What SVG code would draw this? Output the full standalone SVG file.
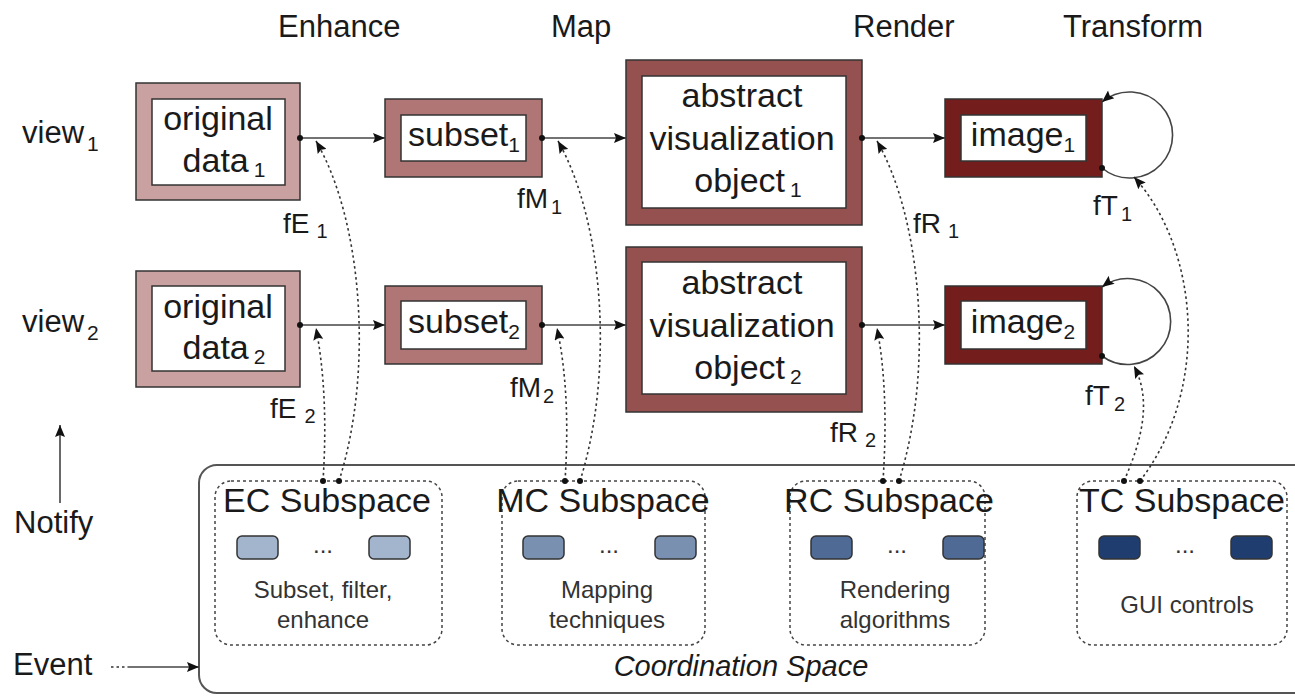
<svg xmlns="http://www.w3.org/2000/svg" width="1295" height="696" viewBox="0 0 1295 696">
<defs>
<style>
text{font-family:"Liberation Sans",Arial,Helvetica,sans-serif;fill:#1a1a1a}
.top{font-size:31px}
.nt{font-size:34px;text-anchor:middle}
.lb{font-size:28px}
.sub{font-size:21px}
.ssub{font-size:20px}
.in{fill:#fff;stroke:#333;stroke-width:1.5}
.out{stroke:#333;stroke-width:1.5}
.c1{fill:#c9a1a1}.c2{fill:#b07676}.c3{fill:#955050}.c4{fill:#731d1d}
.conn{fill:none;stroke:#444;stroke-width:1.6}
.dot{fill:none;stroke:#333;stroke-width:1.6;stroke-dasharray:2.5 3}
.ss{fill:none;stroke:#444;stroke-width:1.5;stroke-dasharray:3 3}
.st{font-size:34px;text-anchor:middle}
.sd{font-size:24px;text-anchor:middle;fill:#333}
.btn{stroke:#333;stroke-width:1.5}
.b1{fill:#a3b4cd}.b2{fill:#7a90b1}.b3{fill:#4f6a95}.b4{fill:#1f3d6f}
</style>
<marker id="arr" viewBox="0 0 12 10" refX="12" refY="5" markerWidth="13" markerHeight="10" markerUnits="userSpaceOnUse" orient="auto">
<path d="M0,0 L12,5 L0,10 L2,5 z" fill="#111"/>
</marker>
</defs>
<rect width="1295" height="696" fill="#fff"/>

<g id="stage-labels">
<text class="top" x="278" y="37">Enhance</text>
<text class="top" x="551" y="37">Map</text>
<text class="top" x="853" y="37">Render</text>
<text class="top" x="1063" y="37">Transform</text>
</g>

<g id="view-labels">
<text class="top" x="22" y="143">view<tspan class="sub" dx="3" dy="8">1</tspan></text>
<text class="top" x="22" y="332">view<tspan class="sub" dx="3" dy="8">2</tspan></text>
</g>

<g id="original1">
<rect class="out c1" x="136" y="83" width="164" height="117"/>
<rect class="in" x="152" y="99" width="133" height="86"/>
<text class="nt" x="218" y="130">original</text>
<text class="nt" x="224" y="172">data<tspan class="sub" dx="5" dy="5">1</tspan></text>
</g>
<g id="original2">
<rect class="out c1" x="136" y="271" width="164" height="116"/>
<rect class="in" x="152" y="286" width="133" height="85"/>
<text class="nt" x="218" y="318">original</text>
<text class="nt" x="224" y="359">data<tspan class="sub" dx="5" dy="5">2</tspan></text>
</g>

<g id="subset1">
<rect class="out c2" x="385" y="99" width="157" height="78"/>
<rect class="in" x="401" y="115" width="125" height="46"/>
<text class="nt" x="464" y="146">subset<tspan class="sub" dy="6">1</tspan></text>
</g>
<g id="subset2">
<rect class="out c2" x="385" y="286" width="157" height="78"/>
<rect class="in" x="401" y="301" width="125" height="48"/>
<text class="nt" x="464" y="333">subset<tspan class="sub" dy="6">2</tspan></text>
</g>

<g id="avo1">
<rect class="out c3" x="626" y="60" width="236" height="165"/>
<rect class="in" x="642" y="76" width="204" height="132"/>
<text class="nt" x="742" y="107">abstract</text>
<text class="nt" x="742" y="150">visualization</text>
<text class="nt" x="748" y="192">object<tspan class="sub" dx="5" dy="5">1</tspan></text>
</g>
<g id="avo2">
<rect class="out c3" x="626" y="247" width="236" height="165"/>
<rect class="in" x="642" y="262" width="204" height="132"/>
<text class="nt" x="742" y="294">abstract</text>
<text class="nt" x="742" y="337">visualization</text>
<text class="nt" x="748" y="379">object<tspan class="sub" dx="5" dy="5">2</tspan></text>
</g>

<g id="image1">
<rect class="out c4" x="945" y="99" width="157" height="78"/>
<rect class="in" x="961" y="115" width="125" height="46"/>
<text class="nt" x="1023" y="146">image<tspan class="sub" dy="6">1</tspan></text>
</g>
<g id="image2">
<rect class="out c4" x="945" y="286" width="157" height="78"/>
<rect class="in" x="961" y="301" width="125" height="48"/>
<text class="nt" x="1023" y="333">image<tspan class="sub" dy="6">2</tspan></text>
</g>

<g id="coordination-space">
<rect x="199" y="465" width="1130" height="228" rx="18" fill="none" stroke="#555" stroke-width="2"/>
<text x="741" y="676" font-size="29" text-anchor="middle" font-style="italic">Coordination Space</text>
</g>

<g id="ec-subspace">
<rect class="ss" x="215" y="481" width="227" height="164" rx="16"/>
<text class="st" x="327" y="512">EC Subspace</text>
<rect class="btn b1" x="237" y="536" width="41" height="23" rx="5"/>
<rect class="btn b1" x="369" y="536" width="41" height="23" rx="5"/>
<text class="sd" x="323" y="553">...</text>
<text class="sd" x="323" y="598">Subset, filter,</text>
<text class="sd" x="323" y="628">enhance</text>
</g>
<g id="mc-subspace">
<rect class="ss" x="502" y="481" width="203" height="164" rx="16"/>
<text class="st" x="603" y="512">MC Subspace</text>
<rect class="btn b2" x="523" y="536" width="41" height="23" rx="5"/>
<rect class="btn b2" x="655" y="536" width="41" height="23" rx="5"/>
<text class="sd" x="609" y="553">...</text>
<text class="sd" x="607" y="598">Mapping</text>
<text class="sd" x="607" y="628">techniques</text>
</g>
<g id="rc-subspace">
<rect class="ss" x="790" y="481" width="195" height="164" rx="16"/>
<text class="st" x="889" y="512">RC Subspace</text>
<rect class="btn b3" x="811" y="536" width="41" height="23" rx="5"/>
<rect class="btn b3" x="943" y="536" width="41" height="23" rx="5"/>
<text class="sd" x="897" y="553">...</text>
<text class="sd" x="895" y="598">Rendering</text>
<text class="sd" x="895" y="628">algorithms</text>
</g>
<g id="tc-subspace">
<rect class="ss" x="1077" y="481" width="210" height="164" rx="16"/>
<text class="st" x="1182" y="512">TC Subspace</text>
<rect class="btn b4" x="1099" y="536" width="41" height="23" rx="5"/>
<rect class="btn b4" x="1231" y="536" width="41" height="23" rx="5"/>
<text class="sd" x="1185" y="553">...</text>
<text class="sd" x="1187" y="613">GUI controls</text>
</g>

<g id="side-labels">
<text class="top" x="14" y="533">Notify</text>
<text class="top" x="13" y="675">Event</text>
</g>

<g id="connectors">
<path class="conn" d="M300,138 H385" marker-end="url(#arr)"/>
<path class="conn" d="M542,138 H626" marker-end="url(#arr)"/>
<path class="conn" d="M862,138 H945" marker-end="url(#arr)"/>
<path class="conn" d="M300,325 H385" marker-end="url(#arr)"/>
<path class="conn" d="M542,325 H626" marker-end="url(#arr)"/>
<path class="conn" d="M862,325 H945" marker-end="url(#arr)"/>
<path class="conn" d="M1102,168 A43,43 0 1 0 1102,102" marker-end="url(#arr)"/>
<path class="conn" d="M1102,356 A43,43 0 1 0 1102,287" marker-end="url(#arr)"/>
<g fill="#111">
<circle cx="300" cy="138" r="3"/><circle cx="542" cy="138" r="3"/><circle cx="862" cy="138" r="3"/>
<circle cx="300" cy="325" r="3"/><circle cx="542" cy="325" r="3"/><circle cx="862" cy="325" r="3"/>
<circle cx="1102" cy="168" r="3"/><circle cx="1102" cy="356" r="3"/>
</g>
<path class="dot" d="M339,481 C374,370 362,220 316,141" marker-end="url(#arr)"/>
<path class="dot" d="M323,481 C327,420 324,370 316,328" marker-end="url(#arr)"/>
<path class="dot" d="M580,481 C615,370 603,220 558,141" marker-end="url(#arr)"/>
<path class="dot" d="M565,481 C569,420 566,370 557,328" marker-end="url(#arr)"/>
<path class="dot" d="M899,481 C934,370 922,220 877,141" marker-end="url(#arr)"/>
<path class="dot" d="M883,481 C887,420 885,370 877,328" marker-end="url(#arr)"/>
<path class="dot" d="M1140,481 C1210,390 1200,250 1134,177" marker-end="url(#arr)"/>
<path class="dot" d="M1124,481 C1142,440 1152,400 1134,366" marker-end="url(#arr)"/>
<g fill="#111">
<circle cx="323" cy="481" r="3"/><circle cx="339" cy="481" r="3"/>
<circle cx="565" cy="481" r="3"/><circle cx="580" cy="481" r="3"/>
<circle cx="883" cy="481" r="3"/><circle cx="899" cy="481" r="3"/>
<circle cx="1124" cy="481" r="3"/><circle cx="1140" cy="481" r="3"/>
</g>
<path class="conn" d="M60,503 V425" marker-end="url(#arr)"/>
<path class="dot" d="M111,667 H128"/>
<path class="conn" d="M128,667 H199" marker-end="url(#arr)"/>
</g>

<g id="function-labels">
<text class="lb" x="283" y="233">fE<tspan class="ssub" dx="7" dy="5">1</tspan></text>
<text class="lb" x="270" y="418">fE<tspan class="ssub" dx="8" dy="5">2</tspan></text>
<text class="lb" x="517" y="208">fM<tspan class="ssub" dx="3" dy="6">1</tspan></text>
<text class="lb" x="510" y="397">fM<tspan class="ssub" dx="2" dy="6">2</tspan></text>
<text class="lb" x="913" y="233">fR<tspan class="ssub" dx="7" dy="5">1</tspan></text>
<text class="lb" x="830" y="442">fR<tspan class="ssub" dx="7" dy="5">2</tspan></text>
<text class="lb" x="1093" y="215">fT<tspan class="ssub" dx="3" dy="6">1</tspan></text>
<text class="lb" x="1085" y="405">fT<tspan class="ssub" dx="4" dy="6">2</tspan></text>
</g>
</svg>
